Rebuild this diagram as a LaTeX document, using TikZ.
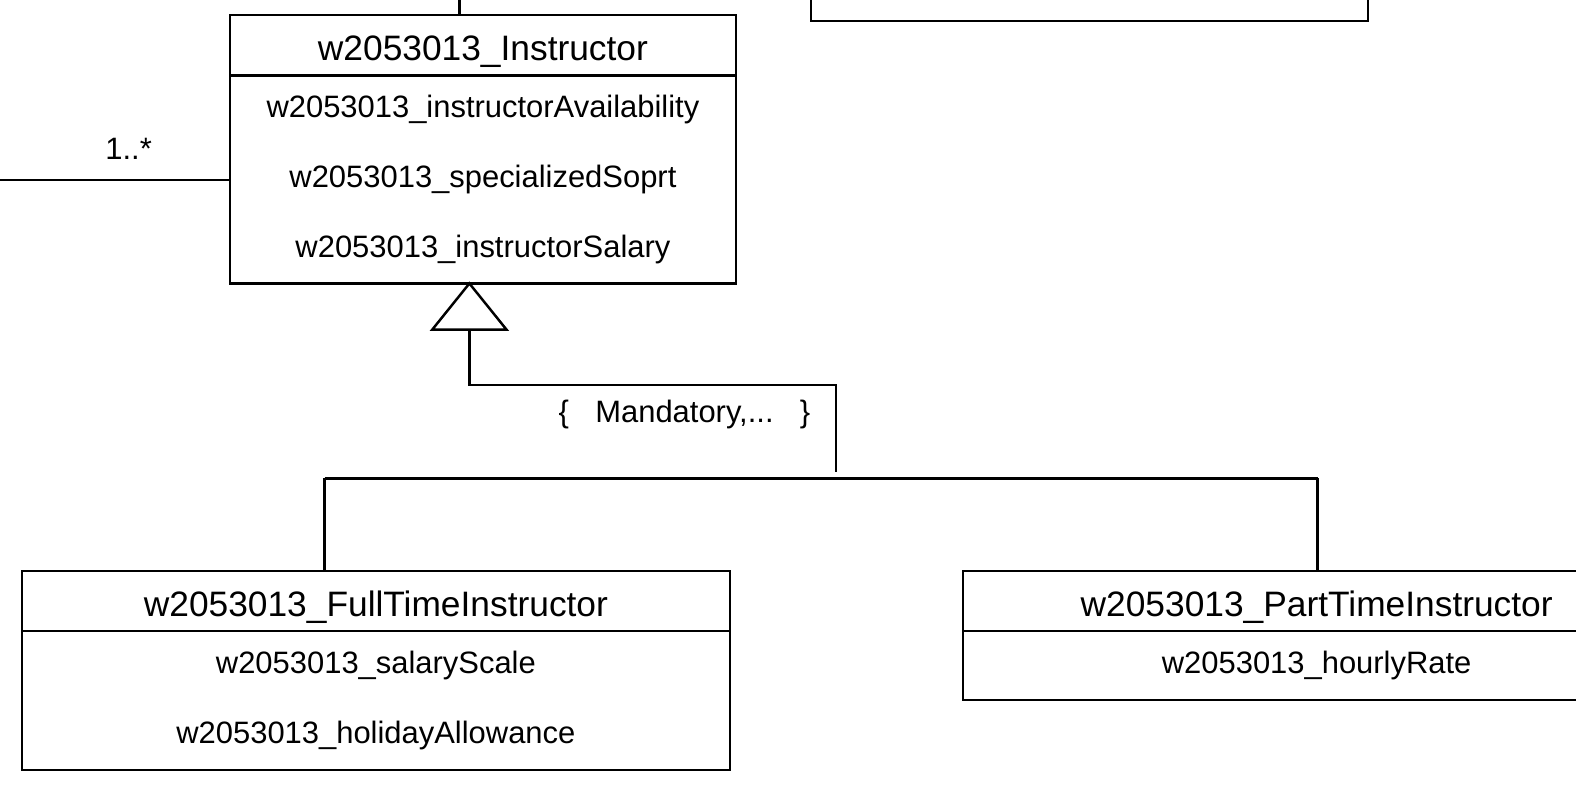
\documentclass[tikz,border=0pt]{standalone}
\usepackage{fontspec}
\setmainfont{Liberation Sans}
\usetikzlibrary{positioning}
\tikzset{
  wire/.style={draw=black,line width=1.4pt},
  classhead/.style={draw=black,line width=1.4pt,minimum height=1.206cm,inner sep=0pt,outer sep=0pt,
    text height=17.7pt,text depth=0pt,font=\fontsize{20.1}{24}\selectfont},
  classattr/.style={draw=black,line width=1.4pt,inner sep=0pt,outer sep=0pt,align=center,font=\fontsize{17.6}{39.7}\selectfont},
  smalllabel/.style={font=\fontsize{17.6}{21}\selectfont}
}

\begin{document}
\begin{tikzpicture}[x=0.0201cm,y=-0.0201cm]
  \useasboundingbox (0,0) rectangle (1568,781);
  \clip (0,0) rectangle (1568,781);
  % classes
  \node[classhead,minimum width=11.14cm,minimum height=1.65cm] (other) at (1084,-20) {};
  \node[classhead,minimum width=10.11cm] (instr) at (480.5,45) {w2053013\_Instructor};
  \node[classattr,minimum width=10.11cm,minimum height=4.16cm,below=0pt of instr] (instrAttr)
    {w2053013\_instructorAvailability\\w2053013\_specializedSoprt\\w2053013\_instructorSalary};
  \node[classhead,minimum width=14.15cm] (full) at (374,598) {w2053013\_FullTimeInstructor};
  \node[classattr,minimum width=14.15cm,minimum height=2.77cm,below=0pt of full] (fullAttr)
    {w2053013\_salaryScale\\w2053013\_holidayAllowance};
  \node[classhead,minimum width=14.15cm] (part) at (1310,598) {w2053013\_PartTimeInstructor};
  \node[classattr,minimum width=14.15cm,minimum height=1.37cm,below=0pt of part] (partAttr)
    {w2053013\_hourlyRate};
  % associations
  \coordinate (up) at (457,0);
  \coordinate (left) at (0,179);
  \draw (up) -- (up |- instr.north) [wire];
  \draw (left) -- (left -| instrAttr.west) [wire];
  \node[smalllabel] (mult) at (128,148) {1..*};
  % generalization
  \coordinate (apex) at (467,282);
  \coordinate (tbase) at (467,328);
  \coordinate (knee) at (832,383);
  \coordinate (joint) at (832,470);
  \coordinate (barL) at (323,476);
  \coordinate (barR) at (1311,476);
  \draw (apex) -- ++(-37,46) -- ++(74,0) -- cycle [wire,fill=white];
  \draw (tbase) -- (tbase |- knee) -- (knee) -- (joint) [wire];
  \draw (barL) -- (barR) [wire];
  \draw (barL) -- (barL |- full.north) [wire];
  \draw (barR) -- (barR |- part.north) [wire];
  \node[smalllabel] (constr) at (681,412) {\{\hspace{0.85em}Mandatory,...\hspace{0.85em}\}};
\end{tikzpicture}
\end{document}
